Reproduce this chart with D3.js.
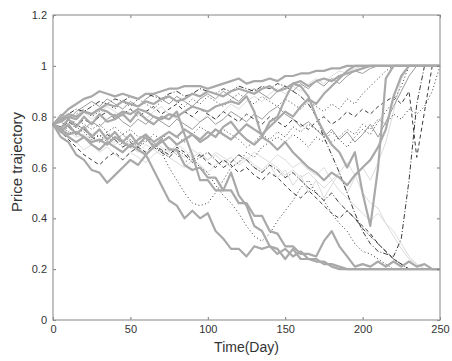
<!DOCTYPE html>
<html>
<head>
<meta charset="utf-8">
<script src="https://cdn.jsdelivr.net/npm/d3@7"></script>
<style>
  body { margin: 0; background: #fff; }
  text { font-family: "Liberation Sans", Arial, sans-serif; fill: #333; }
</style>
</head>
<body>
<div id="chart"></div>
<script>
// sampled every 5 days, day 0 .. 250
var days = d3.range(0, 251, 5);
var xTicks = [0, 50, 100, 150, 200, 250];
var yTicks = [0, 0.2, 0.4, 0.6, 0.8, 1, 1.2];

// thick grey paths
var thickA = [0.77,0.80,0.83,0.85,0.87,0.88,0.90,0.89,0.88,0.89, 0.88,0.87,0.89,0.89,0.90,0.91,0.91,0.92,0.92,0.92, 0.91,0.92,0.93,0.94,0.95,0.93,0.94,0.94,0.95,0.94, 0.96,0.96,0.97,0.97,0.98,0.98,0.99,0.99,1,1, 1,1,1,1,1,1,1,1,1,1,1];
var thickB = [0.77,0.72,0.70,0.65,0.63,0.59,0.58,0.54,0.57,0.60, 0.63,0.61,0.65,0.59,0.53,0.47,0.45,0.40,0.43,0.40, 0.42,0.35,0.32,0.28,0.28,0.25,0.29,0.28,0.29,0.26, 0.28,0.25,0.27,0.24,0.24,0.22,0.22,0.21,0.2,0.2, 0.2,0.2,0.2,0.2,0.2,0.2,0.2,0.2,0.2,0.2,0.2];
var thickC = [0.77,0.75,0.79,0.76,0.80,0.77,0.81,0.78,0.79,0.81, 0.78,0.82,0.79,0.77,0.80,0.79,0.82,0.73,0.65,0.55, 0.55,0.51,0.51,0.58,0.49,0.45,0.37,0.35,0.29,0.28, 0.24,0.28,0.24,0.24,0.23,0.23,0.21,0.2,0.2,0.2, 0.2,0.2,0.2,0.2,0.2,0.2,0.2,0.2,0.2,0.2,0.2];
var thickD = [0.77,0.74,0.77,0.73,0.76,0.72,0.75,0.71,0.74,0.70, 0.73,0.69,0.72,0.68,0.71,0.67,0.67,0.61,0.59,0.60, 0.56,0.56,0.51,0.51,0.46,0.46,0.41,0.41,0.35,0.34, 0.29,0.29,0.26,0.26,0.25,0.31,0.35,0.29,0.25,0.21, 0.22,0.21,0.23,0.21,0.23,0.21,0.23,0.21,0.22,0.2,0.2];
var thickE = [0.77,0.79,0.81,0.80,0.82,0.81,0.83,0.82,0.80,0.82, 0.81,0.83,0.82,0.80,0.79,0.81,0.80,0.82,0.84,0.83, 0.82,0.84,0.85,0.86,0.85,0.88,0.82,0.72,0.78,0.80, 0.87,0.93,0.92,0.88,0.80,0.74,0.69,0.66,0.60,0.66, 0.50,0.37,0.60,0.95,1,1,1,1,1,1,1];
var thickF = [0.77,0.75,0.73,0.74,0.72,0.70,0.71,0.69,0.72,0.70, 0.68,0.71,0.73,0.70,0.72,0.74,0.72,0.75,0.73,0.71, 0.74,0.72,0.76,0.78,0.74,0.71,0.69,0.72,0.70,0.67, 0.70,0.66,0.63,0.60,0.58,0.55,0.58,0.56,0.53,0.57, 0.60,0.63,0.68,0.75,0.88,0.96,1,1,1,1,1];
var thickG = [0.77,0.78,0.80,0.79,0.82,0.81,0.83,0.85,0.84,0.86, 0.85,0.84,0.86,0.85,0.87,0.88,0.86,0.87,0.89,0.88, 0.90,0.89,0.88,0.90,0.91,0.90,0.89,0.91,0.92,0.90, 0.91,0.93,0.94,0.92,0.94,0.95,0.94,0.96,0.97,0.98, 0.99,1,1,1,1,1,1,1,1,1,1];
var thickH = [0.77,0.74,0.72,0.70,0.72,0.69,0.67,0.70,0.68,0.66, 0.69,0.67,0.65,0.68,0.70,0.72,0.69,0.71,0.73,0.70, 0.72,0.75,0.73,0.71,0.74,0.77,0.75,0.73,0.76,0.79, 0.82,0.80,0.84,0.87,0.85,0.89,0.92,0.95,0.98,1, 1,1,1,1,1,1,1,1,1,1,1];

// dark dotted / dashed paths
var dotA = [0.77,0.78,0.76,0.79,0.77,0.75,0.77,0.74,0.76,0.73, 0.75,0.72,0.72,0.70,0.66,0.60,0.55,0.50,0.46,0.45, 0.46,0.50,0.55,0.60,0.62,0.66,0.64,0.68,0.70,0.72, 0.70,0.73,0.71,0.68,0.72,0.70,0.74,0.71,0.68,0.72, 0.75,0.73,0.78,0.82,0.86,0.92,1,1,1,1,1];
var dotB = [0.77,0.76,0.74,0.77,0.75,0.73,0.72,0.74,0.71,0.73, 0.70,0.68,0.71,0.69,0.66,0.68,0.65,0.62,0.64,0.60, 0.58,0.53,0.49,0.46,0.42,0.37,0.33,0.31,0.34,0.39, 0.43,0.47,0.52,0.55,0.50,0.47,0.42,0.38,0.35,0.30, 0.27,0.26,0.24,0.22,0.2,0.2,0.2,0.2,0.2,0.2,0.2];
var dashC = [0.77,0.79,0.81,0.83,0.82,0.84,0.86,0.85,0.87,0.86, 0.88,0.87,0.89,0.88,0.87,0.89,0.90,0.88,0.89,0.91, 0.90,0.89,0.91,0.90,0.92,0.91,0.90,0.92,0.91,0.93, 0.92,0.90,0.88,0.85,0.80,0.72,0.65,0.58,0.50,0.42, 0.35,0.30,0.27,0.26,0.25,0.32,0.55,0.85,1,1,1];
var dashD = [0.77,0.75,0.78,0.76,0.79,0.77,0.80,0.82,0.79,0.81, 0.83,0.80,0.82,0.84,0.81,0.83,0.85,0.82,0.80,0.83, 0.81,0.79,0.82,0.80,0.78,0.81,0.79,0.77,0.80,0.78, 0.76,0.79,0.77,0.75,0.78,0.80,0.77,0.79,0.82,0.80, 0.83,0.81,0.84,0.86,0.88,0.85,0.90,0.64,0.82,1,1];
var dashE = [0.77,0.74,0.76,0.73,0.75,0.72,0.70,0.73,0.71,0.68, 0.70,0.67,0.65,0.68,0.66,0.64,0.67,0.65,0.62,0.64, 0.66,0.63,0.60,0.62,0.65,0.63,0.60,0.58,0.61,0.59, 0.56,0.58,0.55,0.52,0.50,0.47,0.50,0.46,0.43,0.40, 0.36,0.33,0.30,0.27,0.24,0.22,0.2,0.2,0.2,0.2,0.2];
var dotF = [0.77,0.80,0.78,0.81,0.83,0.80,0.82,0.85,0.83,0.86, 0.84,0.87,0.85,0.83,0.86,0.88,0.86,0.84,0.87,0.85, 0.88,0.86,0.84,0.87,0.89,0.87,0.85,0.88,0.86,0.84, 0.87,0.85,0.83,0.86,0.84,0.82,0.85,0.83,0.87,0.85, 0.89,0.92,0.95,0.98,1,1,1,1,1,1,1];
var dotG = [0.77,0.75,0.73,0.76,0.74,0.71,0.73,0.70,0.72,0.69, 0.71,0.68,0.70,0.73,0.71,0.74,0.72,0.70,0.73,0.76, 0.74,0.72,0.75,0.73,0.71,0.68,0.70,0.73,0.71,0.74, 0.72,0.76,0.74,0.77,0.75,0.73,0.70,0.72,0.75,0.73, 0.77,0.75,0.79,0.77,0.81,0.79,0.83,0.81,0.84,0.90,1];
var dashH = [0.77,0.74,0.71,0.68,0.65,0.63,0.61,0.64,0.66,0.63, 0.66,0.68,0.66,0.69,0.67,0.65,0.68,0.66,0.63,0.65, 0.62,0.60,0.63,0.61,0.58,0.60,0.57,0.55,0.58,0.56, 0.53,0.50,0.48,0.51,0.48,0.45,0.42,0.40,0.43,0.40, 0.37,0.34,0.30,0.27,0.24,0.22,0.2,0.2,0.2,0.2,0.2];

// light grey paths
var lightA = [0.77,0.76,0.74,0.72,0.73,0.71,0.70,0.72,0.69,0.71, 0.68,0.66,0.69,0.67,0.65,0.68,0.66,0.64,0.67,0.65, 0.63,0.66,0.64,0.62,0.65,0.63,0.66,0.64,0.62,0.65, 0.63,0.60,0.62,0.59,0.57,0.60,0.55,0.58,0.62,0.57, 0.50,0.46,0.44,0.38,0.35,0.30,0.25,0.22,0.2,0.2,0.2];
var lightB = [0.77,0.78,0.76,0.74,0.76,0.73,0.75,0.72,0.70,0.73, 0.71,0.69,0.72,0.70,0.68,0.66,0.69,0.67,0.64,0.66, 0.63,0.65,0.62,0.64,0.61,0.63,0.60,0.58,0.61,0.56, 0.59,0.53,0.57,0.50,0.55,0.48,0.53,0.58,0.50,0.56, 0.60,0.55,0.62,0.70,0.82,0.95,1,1,1,1,1];
var lightC = [0.77,0.79,0.77,0.80,0.82,0.79,0.81,0.84,0.82,0.80, 0.83,0.81,0.79,0.82,0.84,0.81,0.79,0.82,0.80,0.78, 0.81,0.79,0.82,0.85,0.83,0.86,0.88,0.86,0.89,0.91, 0.89,0.92,0.90,0.93,0.95,0.93,0.96,0.98,0.97,0.99, 1,1,1,1,1,1,1,1,1,1,1];
var lightD = [0.77,0.75,0.72,0.70,0.67,0.69,0.66,0.68,0.65,0.63, 0.66,0.64,0.62,0.65,0.67,0.64,0.62,0.60,0.63,0.61, 0.58,0.61,0.63,0.60,0.62,0.64,0.61,0.59,0.62,0.60, 0.57,0.59,0.56,0.58,0.55,0.52,0.55,0.51,0.48,0.45, 0.42,0.39,0.42,0.38,0.33,0.28,0.24,0.22,0.2,0.2,0.2];

// mid grey thin paths
var midA = [0.77,0.81,0.79,0.82,0.84,0.86,0.84,0.87,0.85,0.83, 0.86,0.84,0.87,0.89,0.87,0.85,0.88,0.86,0.84,0.87, 0.89,0.87,0.90,0.88,0.86,0.89,0.91,0.89,0.87,0.90, 0.92,0.90,0.93,0.91,0.94,0.92,0.95,0.93,0.96,0.98, 0.97,0.99,1,1,1,1,1,1,1,1,1];
var midB = [0.77,0.76,0.79,0.77,0.75,0.78,0.76,0.79,0.81,0.78, 0.76,0.79,0.77,0.80,0.78,0.76,0.79,0.77,0.75,0.78, 0.80,0.77,0.79,0.82,0.80,0.78,0.81,0.79,0.82,0.84, 0.81,0.79,0.76,0.78,0.75,0.72,0.75,0.71,0.74,0.70, 0.73,0.77,0.72,0.78,0.84,0.90,0.96,1,1,1,1];

// line looks
var light = {stroke: "#dcdcdc", width: 1, dash: null};
var mid = {stroke: "#9a9a9a", width: 1, dash: null};
var dotted = {stroke: "#3a3a3a", width: 1, dash: "1,2.5"};
var dashdot = {stroke: "#3a3a3a", width: 1, dash: "5,2,1,2"};
var dashed = {stroke: "#3a3a3a", width: 1, dash: "4,3"};
var thick = {stroke: "#a9a9a9", width: 2.2, dash: null};

var series = [
  [lightA, light], [lightB, light], [lightC, light], [lightD, light],
  [midA, mid], [midB, mid],
  [dotA, dotted], [dotB, dotted], [dashC, dashdot], [dashD, dashed],
  [dashE, dashdot], [dotF, dotted], [dotG, dotted], [dashH, dashed],
  [thickA, thick], [thickB, thick], [thickC, thick], [thickD, thick],
  [thickE, thick], [thickF, thick], [thickG, thick], [thickH, thick]
];

var W = 452, H = 361;
var margin = {top: 15, right: 12, bottom: 41, left: 53};
var w = W - margin.left - margin.right;
var h = H - margin.top - margin.bottom;

var svg = d3.select("#chart").append("svg")
  .attr("width", W)
  .attr("height", H);

var g = svg.append("g")
  .attr("transform", "translate(" + margin.left + "," + margin.top + ")");

var x = d3.scaleLinear().domain([0, 250]).range([0, w]);
var y = d3.scaleLinear().domain([0, 1.2]).range([h, 0]);

var line = d3.line()
  .x(function(d, i) { return x(days[i]); })
  .y(function(d) { return y(d); });

g.selectAll(".traj")
  .data(series)
  .enter()
  .append("path")
  .attr("class", "traj")
  .attr("fill", "none")
  .attr("stroke", function(d) { return d[1].stroke; })
  .attr("stroke-width", function(d) { return d[1].width; })
  .attr("stroke-dasharray", function(d) { return d[1].dash; })
  .attr("stroke-linejoin", "round")
  .attr("d", function(d) { return line(d[0]); });

var fmt = function(d) { return String(+d.toFixed(1)); };

// axes, ticks pointing inward
var ax = [
  g.append("g").attr("transform", "translate(0," + h + ")")
    .call(d3.axisBottom(x).tickValues(xTicks).tickSize(-3).tickPadding(5).tickFormat(fmt)),
  g.append("g")
    .call(d3.axisTop(x).tickValues(xTicks).tickSize(-3).tickFormat("")),
  g.append("g")
    .call(d3.axisLeft(y).tickValues(yTicks).tickSize(-3).tickPadding(6).tickFormat(fmt)),
  g.append("g").attr("transform", "translate(" + w + ",0)")
    .call(d3.axisRight(y).tickValues(yTicks).tickSize(-3).tickFormat(""))
];
ax.forEach(function(a) {
  a.select(".domain").remove();
  a.selectAll(".tick line").attr("stroke", "#777");
  a.selectAll("text").style("font-size", "11px").attr("fill", "#333");
});

g.append("rect")
  .attr("width", w)
  .attr("height", h)
  .attr("fill", "none")
  .attr("stroke", "#999")
  .attr("stroke-width", 1.2);

svg.append("text")
  .attr("x", margin.left + w / 2)
  .attr("y", 352)
  .attr("text-anchor", "middle")
  .style("font-size", "14px")
  .text("Time(Day)");

svg.append("text")
  .attr("transform", "translate(22,162) rotate(-90)")
  .attr("text-anchor", "middle")
  .style("font-size", "15px")
  .text("Price trajectory");
</script>
</body>
</html>
